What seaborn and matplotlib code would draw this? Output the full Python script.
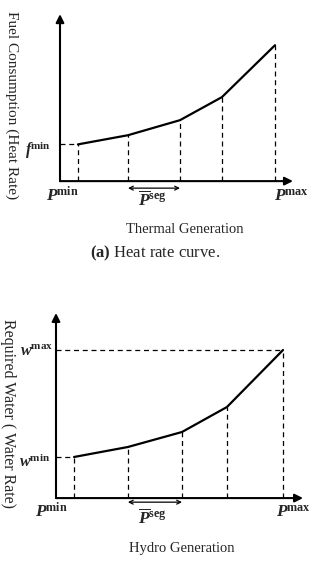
import numpy as np
import pandas as pd
import seaborn as sns
import matplotlib.pyplot as plt

# piecewise-linear curves (arbitrary units, axis spans 0..10)
thermal_gen = [0.77, 2.92, 5.15, 6.95, 9.23]
thermal_fuel = [2.2, 2.75, 3.65, 5.03, 8.14]
hydro_gen = [0.73, 2.91, 5.10, 6.92, 9.19]
hydro_water = [2.22, 2.76, 3.57, 4.92, 8.0]

sns.set_style('white')
plt.rcParams['font.family'] = ['Liberation Serif', 'DejaVu Serif']
plt.rcParams['mathtext.fontset'] = 'custom'
plt.rcParams['mathtext.rm'] = 'Liberation Serif'
plt.rcParams['mathtext.it'] = 'Liberation Serif:italic'
plt.rcParams['mathtext.bf'] = 'Liberation Serif:bold'
plt.rcParams['mathtext.bfit'] = 'Liberation Serif:italic:bold'

fig = plt.figure(figsize=(3.2, 5.66), dpi=100)
ax1 = fig.add_axes([0.1875, 0.680, 0.728, 0.295])
ax2 = fig.add_axes([0.175, 0.120, 0.772, 0.327])

dash = dict(color='black', lw=0.9, ls=(0, (4, 3)))


def panel(ax, gen, val, xlabel, ymin_lab, ymin_pos, ymax_lab=None, ymax_pos=None,
          pmin_pos=(0, -0.8), pmax_pos=(9.7, -0.8), seg_pos=(3.9, -1.1),
          arrow_y=-0.35, xlab_pos=(5.2, -2.8)):
  df = pd.DataFrame({'gen': gen, 'val': val})
  sns.lineplot(data=df, x='gen', y='val', ax=ax, color='black', lw=1.6)
  ax.set_xlim(0, 10)
  ax.set_ylim(0, 10)
  for sp in ax.spines.values():
    sp.set_visible(False)
  ax.set_xticks([])
  ax.set_yticks([])
  ax.set_xlabel(None)
  ax.set_ylabel(None)
  ax.patch.set_alpha(0)
  # axes with arrow heads
  for tip in [(1, 0), (0, 1)]:
    ax.annotate('', xy=tip, xytext=(0, 0), xycoords='axes fraction',
                arrowprops=dict(arrowstyle='-|>', lw=1.5, color='black', mutation_scale=12,
                                shrinkA=0, shrinkB=0))
  # guides
  for g, v in zip(gen, val):
    ax.plot([g, g], [0, v], **dash)
  ax.plot([0, gen[0]], [val[0], val[0]], **dash)
  if ymax_lab:
    ax.plot([0, gen[-1]], [val[-1], val[-1]], **dash)
  # segment arrow
  ax.annotate('', xy=(gen[2], arrow_y), xytext=(gen[1], arrow_y), xycoords='data',
              arrowprops=dict(arrowstyle='<->', lw=0.9, color='black', mutation_scale=7,
                              shrinkA=0, shrinkB=0), annotation_clip=False)
  kw = dict(ha='center', va='center', fontsize=12.5, clip_on=False)
  ax.text(*pmin_pos, r'$\boldsymbol{P}^{\mathbf{min}}$', **kw)
  ax.text(*pmax_pos, r'$\boldsymbol{P}^{\mathbf{max}}$', **kw)
  ax.text(*seg_pos, r'$\overline{\boldsymbol{P}}^{\mathbf{seg}}$', **kw)
  ykw = dict(kw, fontsize=11.5)
  ax.text(*ymin_pos, ymin_lab, **ykw)
  if ymax_lab:
    ax.text(*ymax_pos, ymax_lab, **ykw)
  ax.text(*xlab_pos, xlabel, ha='center', va='center', fontsize=10.5)


panel(ax1, thermal_gen, thermal_fuel, 'Thermal Generation',
      r'$\boldsymbol{f}^{\mathbf{min}}$', (-0.95, 1.86),
      pmin_pos=(0.1, -0.9), pmax_pos=(9.95, -0.9), seg_pos=(3.95, -1.14),
      arrow_y=-0.42, xlab_pos=(5.36, -2.87))
panel(ax2, hydro_gen, hydro_water, 'Hydro Generation',
      r'$\boldsymbol{w}^{\mathbf{min}}$', (-0.85, 1.95),
      ymax_lab=r'$\boldsymbol{w}^{\mathbf{max}}$', ymax_pos=(-0.8, 7.9),
      pmin_pos=(-0.2, -0.76), pmax_pos=(9.6, -0.76), seg_pos=(3.9, -1.08),
      arrow_y=-0.22, xlab_pos=(5.1, -2.7))

fig.text(0.0375, 0.814, 'Fuel Consumption (Heat Rate)', rotation=-90,
         ha='center', va='center', fontsize=11)
fig.text(0.025, 0.269, 'Required Water ( Water Rate)', rotation=-90,
         ha='center', va='center', fontsize=11.5)
fig.text(0.484, 0.553, r'$\mathbf{(a)}$' + ' Heat rate curve.', ha='center', va='center',
         fontsize=12)

fig.savefig('out.png', dpi=100)
